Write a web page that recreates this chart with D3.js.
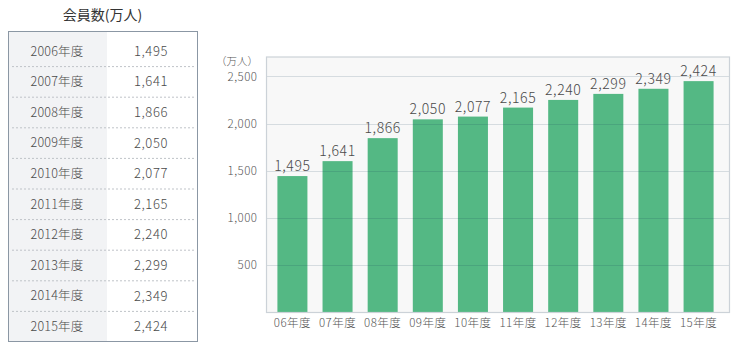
<!DOCTYPE html>
<html lang="ja">
<head>
<meta charset="utf-8">
<script src="https://cdn.jsdelivr.net/npm/d3@7"></script>
<style>
  html, body { margin: 0; padding: 0; background: #fff; }
  svg { display: block; font-family: "Noto Sans CJK JP", "Noto Sans", sans-serif; font-weight: 300; }
</style>
</head>
<body>
<svg id="chart" width="738" height="350"></svg>
<script>
// Members per fiscal year (unit: 10,000 people)
const years = ["2006", "2007", "2008", "2009", "2010", "2011", "2012", "2013", "2014", "2015"];
const shortLabels = ["06年度", "07年度", "08年度", "09年度", "10年度", "11年度", "12年度", "13年度", "14年度", "15年度"];
const members = [1495, 1641, 1866, 2050, 2077, 2165, 2240, 2299, 2349, 2424];
const yTicks = [500, 1000, 1500, 2000, 2500];

const fmt = d3.format(",");
const svg = d3.select("#chart");

// ---- Table on the left ----
const tbl = { left: 8, right: 197, top: 31, bottom: 341, split: 107, rowTop: 36, rowH: 30.6 };

svg.append("text")
  .attr("x", (tbl.left + tbl.right) / 2)
  .attr("y", 15)
  .attr("dy", "0.35em")
  .attr("text-anchor", "middle")
  .attr("font-size", 14)
  .attr("font-weight", 400)
  .attr("fill", "#333")
  .text("会員数(万人)");

svg.append("rect")
  .attr("x", tbl.left).attr("y", tbl.top)
  .attr("width", tbl.split - tbl.left).attr("height", tbl.bottom - tbl.top)
  .attr("fill", "#f2f3f5");

const rows = svg.append("g").selectAll("g")
  .data(years.map((y, i) => ({ year: y, value: members[i], i })))
  .join("g")
  .attr("transform", d => `translate(0,${tbl.rowTop + d.i * tbl.rowH})`);

rows.append("text")
  .attr("x", 57).attr("y", tbl.rowH / 2)
  .attr("dy", "0.35em")
  .attr("text-anchor", "middle")
  .attr("font-size", 12.5)
  .attr("letter-spacing", 0.2)
  .attr("fill", "#4a4a4a")
  .text(d => d.year + "年度");

rows.append("text")
  .attr("x", 151).attr("y", tbl.rowH / 2)
  .attr("dy", "0.35em")
  .attr("text-anchor", "middle")
  .attr("font-size", 13)
  .attr("letter-spacing", 0.6)
  .attr("fill", "#4a4a4a")
  .text(d => fmt(d.value));

rows.filter(d => d.i < years.length - 1)
  .append("line")
  .attr("x1", tbl.left + 4).attr("x2", tbl.right - 1)
  .attr("y1", tbl.rowH).attr("y2", tbl.rowH)
  .attr("stroke", "#bfc3c8")
  .attr("stroke-dasharray", "2,2");

svg.append("rect")
  .attr("x", tbl.left + 0.5).attr("y", tbl.top + 0.5)
  .attr("width", tbl.right - tbl.left).attr("height", tbl.bottom - tbl.top)
  .attr("fill", "none")
  .attr("stroke", "#8b97a4")
  .attr("stroke-width", 1);

// ---- Bar chart on the right ----
const plot = { left: 266.5, right: 729.5, top: 57, bottom: 312.5 };

const x = d3.scaleBand()
  .domain(shortLabels)
  .range([272, 719])
  .paddingInner(0.335)
  .paddingOuter(0.12);

// scale for the gridlines and tick labels
const y = d3.scaleLinear()
  .domain([0, 2700])
  .range([plot.bottom, 57.6]);

// scale for the bars (the bar baseline starts above zero)
const yBar = d3.scaleLinear()
  .domain([160, 2660])
  .range([plot.bottom, plot.top]);

svg.append("rect")
  .attr("x", plot.left).attr("y", plot.top)
  .attr("width", plot.right - plot.left).attr("height", plot.bottom - plot.top)
  .attr("fill", "#f8f8f8");

svg.append("g").selectAll("rect")
  .data(members)
  .join("rect")
  .attr("x", (d, i) => x(shortLabels[i]))
  .attr("y", d => yBar(d))
  .attr("width", x.bandwidth())
  .attr("height", d => plot.bottom - yBar(d))
  .attr("fill", "#54b884");

// gridlines drawn over the bars, semi-transparent
svg.append("g").selectAll("line")
  .data(yTicks)
  .join("line")
  .attr("x1", plot.left).attr("x2", plot.right)
  .attr("y1", d => Math.round(y(d)) + 0.5)
  .attr("y2", d => Math.round(y(d)) + 0.5)
  .attr("stroke", "rgba(20,60,90,0.15)");

// plot frame
svg.append("rect")
  .attr("x", plot.left).attr("y", plot.top)
  .attr("width", plot.right - plot.left).attr("height", plot.bottom - plot.top)
  .attr("fill", "none")
  .attr("stroke", "#ccd2d8")
  .attr("stroke-width", 1.2);

// y axis labels
const yAxis = d3.axisLeft(y).tickValues(yTicks).tickFormat(fmt).tickSize(0).tickPadding(9);
const gy = svg.append("g").attr("transform", `translate(${plot.left},0)`).call(yAxis);
gy.select(".domain").remove();
gy.selectAll("text")
  .attr("font-family", "Noto Sans CJK JP, Noto Sans, sans-serif")
  .attr("font-weight", 300)
  .attr("font-size", 11.5)
  .attr("letter-spacing", 0.5)
  .attr("fill", "#555");

svg.append("text")
  .attr("x", 258).attr("y", 61)
  .attr("dy", "0.35em")
  .attr("text-anchor", "end")
  .attr("font-size", 10.5)
  .attr("fill", "#555")
  .text("（万人）");

// x axis labels
const xAxis = d3.axisBottom(x).tickSize(0).tickPadding(6);
const gx = svg.append("g").attr("transform", `translate(0,${plot.bottom})`).call(xAxis);
gx.select(".domain").remove();
gx.selectAll("text")
  .attr("font-family", "Noto Sans CJK JP, Noto Sans, sans-serif")
  .attr("font-weight", 300)
  .attr("font-size", 11.5)
  .attr("letter-spacing", 0.5)
  .attr("fill", "#555");

// value labels above bars
svg.append("g").selectAll("text")
  .data(members)
  .join("text")
  .attr("x", (d, i) => x(shortLabels[i]) + x.bandwidth() / 2)
  .attr("y", d => yBar(d) - 5)
  .attr("text-anchor", "middle")
  .attr("font-size", 14)
  .attr("letter-spacing", 0.6)
  .attr("fill", "#4a4a4a")
  .text(d => fmt(d));
</script>
</body>
</html>
